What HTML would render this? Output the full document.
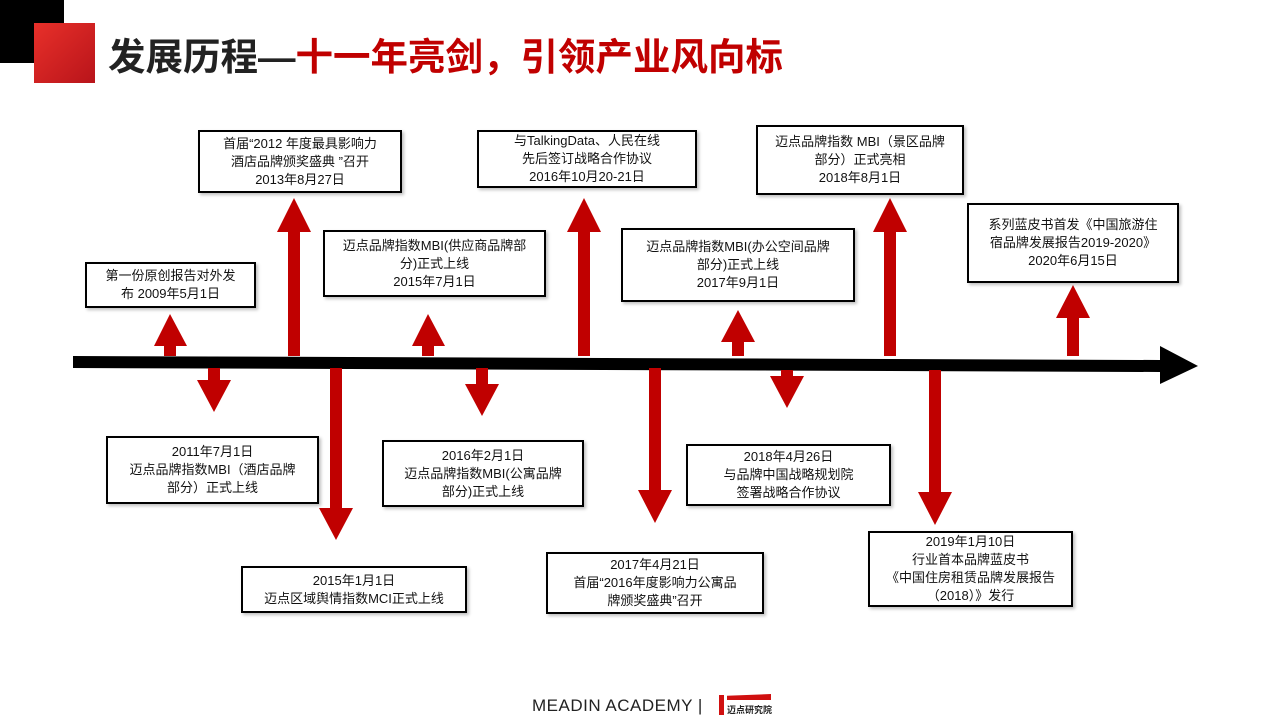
<!DOCTYPE html>
<html><head><meta charset="utf-8"><style>
body{margin:0;width:1280px;height:720px;position:relative;background:#fff;overflow:hidden;font-family:"Liberation Sans","Noto Sans CJK SC",sans-serif}
.b{position:absolute;border:2px solid #000;background:#fff;box-sizing:border-box;display:flex;align-items:center;justify-content:center;text-align:center;font-size:13px;line-height:18px;color:#111;box-shadow:2px 2px 3px rgba(0,0,0,.25)}
</style></head><body>
<div style="position:absolute;left:0;top:0;width:64px;height:63px;background:#000"></div>
<div style="position:absolute;left:34px;top:23px;width:61px;height:60px;background:linear-gradient(135deg,#e8302a,#b8141a)"></div>
<div style="position:absolute;left:108px;top:33px;font-size:37.5px;font-weight:bold;line-height:48px;white-space:nowrap;font-family:'Liberation Sans','Noto Sans CJK SC',sans-serif"><span style="color:#222">发展历程—</span><span style="color:#c00000">十一年亮剑，引领产业风向标</span></div>
<svg width="1280" height="720" style="position:absolute;left:0;top:0">
<polygon points="73,356 1160,360 1160,346 1198,366 1160,384 1160,372 73,368" fill="#000"/>
<g fill="#c00000">
<path d="M164,356V346H154L170,314L187,346H176V356Z"/>
<path d="M288,356V232H277L294,198L311,232H300V356Z"/>
<path d="M422,356V346H412L428,314L445,346H434V356Z"/>
<path d="M578,356V232H567L584,198L601,232H590V356Z"/>
<path d="M732,356V342H721L738,310L755,342H744V356Z"/>
<path d="M884,356V232H873L890,198L907,232H896V356Z"/>
<path d="M1067,356V318H1056L1073,285L1090,318H1079V356Z"/>
<path d="M208,368V380H197L214,412L231,380H220V368Z"/>
<path d="M330,368V508H319L336,540L353,508H342V368Z"/>
<path d="M476,368V384H465L482,416L499,384H488V368Z"/>
<path d="M649,368V490H638L655,523L672,490H661V368Z"/>
<path d="M781,370V376H770L787,408L804,376H793V370Z"/>
<path d="M929,370V492H918L935,525L952,492H941V370Z"/>
</g>
</svg>
<div class="b" style="left:85px;top:262px;width:171px;height:46px">第一份原创报告对外发<br>布 2009年5月1日</div>
<div class="b" style="left:198px;top:130px;width:204px;height:63px">首届“2012 年度最具影响力<br>酒店品牌颁奖盛典 ”召开<br>2013年8月27日</div>
<div class="b" style="left:323px;top:230px;width:223px;height:67px">迈点品牌指数MBI(供应商品牌部<br>分)正式上线<br>2015年7月1日</div>
<div class="b" style="left:477px;top:130px;width:220px;height:58px">与TalkingData、人民在线<br>先后签订战略合作协议<br>2016年10月20-21日</div>
<div class="b" style="left:621px;top:228px;width:234px;height:74px">迈点品牌指数MBI(办公空间品牌<br>部分)正式上线<br>2017年9月1日</div>
<div class="b" style="left:756px;top:125px;width:208px;height:70px">迈点品牌指数 MBI（景区品牌<br>部分）正式亮相<br>2018年8月1日</div>
<div class="b" style="left:967px;top:203px;width:212px;height:80px">系列蓝皮书首发《中国旅游住<br>宿品牌发展报告2019-2020》<br>2020年6月15日</div>
<div class="b" style="left:106px;top:436px;width:213px;height:68px">2011年7月1日<br>迈点品牌指数MBI（酒店品牌<br>部分）正式上线</div>
<div class="b" style="left:241px;top:566px;width:226px;height:47px">2015年1月1日<br>迈点区域舆情指数MCI正式上线</div>
<div class="b" style="left:382px;top:440px;width:202px;height:67px">2016年2月1日<br>迈点品牌指数MBI(公寓品牌<br>部分)正式上线</div>
<div class="b" style="left:546px;top:552px;width:218px;height:62px">2017年4月21日<br>首届“2016年度影响力公寓品<br>牌颁奖盛典”召开</div>
<div class="b" style="left:686px;top:444px;width:205px;height:62px">2018年4月26日<br>与品牌中国战略规划院<br>签署战略合作协议</div>
<div class="b" style="left:868px;top:531px;width:205px;height:76px">2019年1月10日<br>行业首本品牌蓝皮书<br>《中国住房租赁品牌发展报告<br>（2018）》发行</div>
<div style="position:absolute;left:532px;top:696px;font-size:17px;color:#222;letter-spacing:0.5px;white-space:nowrap">MEADIN ACADEMY |</div>
<div style="position:absolute;left:719px;top:695px;width:5px;height:20px;background:#d01010"></div>
<div style="position:absolute;left:727px;top:694px;width:44px;height:6px;background:#d01010;clip-path:polygon(0 30%,100% 0,100% 100%,0 100%)"></div>
<div style="position:absolute;left:727px;top:703px;font-size:9px;font-weight:bold;color:#222;white-space:nowrap">迈点研究院</div>
</body></html>
